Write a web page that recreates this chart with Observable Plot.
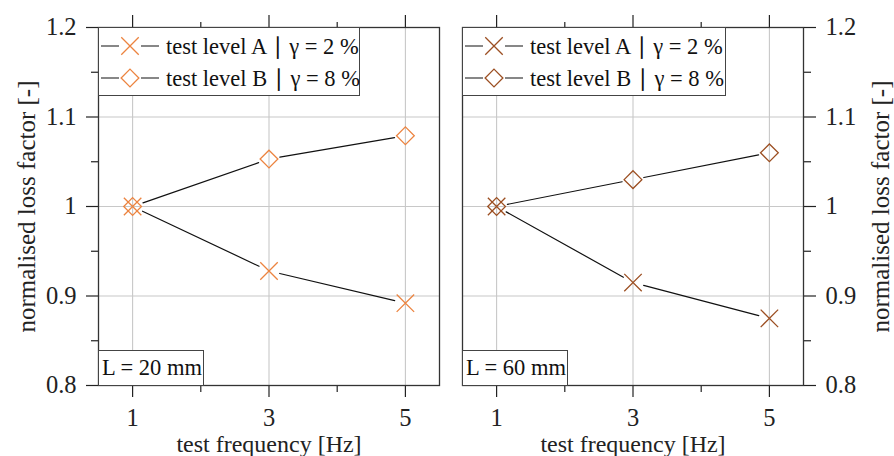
<!DOCTYPE html>
<html><head><meta charset="utf-8">
<script src="https://cdn.jsdelivr.net/npm/d3@7"></script>
<script src="https://cdn.jsdelivr.net/npm/@observablehq/plot@0.6"></script>
<style>
body{margin:0;background:#fff;}
#wrap{position:relative;width:894px;height:456px;font-family:"Liberation Serif",serif;color:#111;overflow:hidden;}
.panel{position:absolute;top:0;}
.legend{position:absolute;background:#fff;border:1.3px solid #444;box-sizing:border-box;font-size:22.5px;}
.row{display:flex;align-items:center;height:32px;}
.row svg{flex:none;}
.row span{margin-left:5px;white-space:nowrap;}
.lbox{position:absolute;background:#fff;border:1.3px solid #444;box-sizing:border-box;font-size:22.5px;line-height:33px;padding-left:3px;white-space:nowrap;}
</style></head>
<body><div id="wrap"></div>
<script>
// ---- data ----
const frequencies = [1, 3, 5];
const levelA_L20 = [1.000, 0.928, 0.892];
const levelB_L20 = [1.000, 1.053, 1.079];
const levelA_L60 = [1.000, 0.915, 0.875];
const levelB_L60 = [1.000, 1.030, 1.060];
const yTicks = [0.8, 0.9, 1, 1.1, 1.2];
const yMinorTicks = [0.85, 0.95, 1.05, 1.15];
const xTicks = [1, 3, 5];
const xMinorTicks = [2, 4];
const seriesLabels = ["test level A \u2223 \u03b3 = 2 %", "test level B \u2223 \u03b3 = 8 %"];
const panelLabels = ["L = 20 mm", "L = 60 mm"];
const panelColors = ["#ec8440", "#9c4f22"];
const yLabel = "normalised loss factor [-]";
const xLabel = "test frequency [Hz]";

const wrap = document.getElementById("wrap");

function table(values) { return frequencies.map((f, i) => ({f, v: values[i]})); }
function segs(values) {
  const t = table(values);
  return t.slice(1).map((d, i) => ({f1: t[i].f, v1: t[i].v, f2: d.f, v2: d.v}));
}

function panel(a, b, color, side) {
  const left = side === "left";
  const fs = 24.5;
  return Plot.plot({
    width: 447, height: 456,
    marginTop: 27, marginBottom: 71,
    marginLeft: left ? 98 : 15, marginRight: left ? 8 : 91,
    style: {fontFamily: "Liberation Serif", fontSize: "24.5px", color: "#222", background: "white", overflow: "visible"},
    x: {domain: [0.5, 5.5]},
    y: {domain: [0.8, 1.2]},
    marks: [
      Plot.gridX(xTicks, {stroke: "#c8c8c8", strokeOpacity: 1, strokeWidth: 1.1}),
      Plot.gridY(yTicks, {stroke: "#c8c8c8", strokeOpacity: 1, strokeWidth: 1.1}),
      Plot.axisX(xTicks, {anchor: "bottom", tickSize: 12, tickPadding: 11, tickFormat: d => String(d), fontSize: fs, label: null, strokeWidth: 1.2}),
      Plot.axisX(xMinorTicks, {anchor: "bottom", tickSize: 7, tickFormat: () => "", label: null, strokeWidth: 1.2}),
      Plot.axisX(xTicks, {anchor: "top", tickSize: 13, tickFormat: () => "", label: null, strokeWidth: 1.2}),
      Plot.axisX(xMinorTicks, {anchor: "top", tickSize: 6, tickFormat: () => "", label: null, strokeWidth: 1.2}),
      Plot.axisY(yTicks, {anchor: side, tickSize: 12, tickPadding: 10, tickFormat: d => String(d), fontSize: fs, label: null, strokeWidth: 1.2}),
      Plot.axisY(yMinorTicks, {anchor: side, tickSize: 7, tickFormat: () => "", label: null, strokeWidth: 1.2}),
      Plot.text([xLabel], {text: d => d, frameAnchor: "bottom", lineAnchor: "middle", textAnchor: "middle", dy: 59, fontSize: 24, fill: "#222"}),
      Plot.text([yLabel], {text: d => d, frameAnchor: side, rotate: -90, textAnchor: "middle", lineAnchor: "middle", dx: left ? -72 : 77, fontSize: 25, fill: "#222"}),
      Plot.frame({stroke: "#333", strokeWidth: 1.3}),
      Plot.arrow(segs(a), {x1: "f1", y1: "v1", x2: "f2", y2: "v2", headLength: 0, inset: 11, stroke: "#111", strokeWidth: 1.2}),
      Plot.arrow(segs(b), {x1: "f1", y1: "v1", x2: "f2", y2: "v2", headLength: 0, inset: 11, stroke: "#111", strokeWidth: 1.2}),
      Plot.dot(table(a), {x: "f", y: "v", symbol: "times", r: 8, stroke: color, strokeWidth: 1.3}),
      Plot.dot(table(b), {x: "f", y: "v", symbol: "diamond2", r: 8, stroke: color, strokeWidth: 1.3, fill: "none"})
    ]
  });
}

function legendBox(color, x, w) {
  const box = document.createElement("div");
  box.className = "legend";
  Object.assign(box.style, {left: x + "px", top: "27px", width: w + "px", height: "69px", paddingTop: "2px"});
  const syms = [d3.symbolTimes, d3.symbolDiamond2];
  seriesLabels.forEach((lab, i) => {
    const row = document.createElement("div");
    row.className = "row";
    const svg = d3.create("svg").attr("width", 62).attr("height", 32);
    svg.append("line").attr("x1", 2).attr("x2", 60).attr("y1", 16).attr("y2", 16).attr("stroke", "#111").attr("stroke-width", 1.2);
    svg.append("rect").attr("x", 20).attr("y", 6).attr("width", 22).attr("height", 20).attr("fill", "white");
    svg.append("path").attr("transform", "translate(31,16)").attr("d", d3.symbol(syms[i], Math.PI * 64)())
      .attr("fill", "none").attr("stroke", color).attr("stroke-width", 1.3);
    row.appendChild(svg.node());
    const sp = document.createElement("span");
    sp.textContent = lab;
    row.appendChild(sp);
    box.appendChild(row);
  });
  wrap.appendChild(box);
}

function labelBox(text, x) {
  const box = document.createElement("div");
  box.className = "lbox";
  Object.assign(box.style, {left: x + "px", top: "350px", width: "106px", height: "36px"});
  box.textContent = text;
  wrap.appendChild(box);
}

const p1 = panel(levelA_L20, levelB_L20, panelColors[0], "left");
p1.classList.add("panel"); p1.style.left = "0px";
const p2 = panel(levelA_L60, levelB_L60, panelColors[1], "right");
p2.classList.add("panel"); p2.style.left = "447px";
wrap.appendChild(p1); wrap.appendChild(p2);
legendBox(panelColors[0], 98, 262);
legendBox(panelColors[1], 462, 264);
labelBox(panelLabels[0], 98);
labelBox(panelLabels[1], 462);
</script></body></html>
